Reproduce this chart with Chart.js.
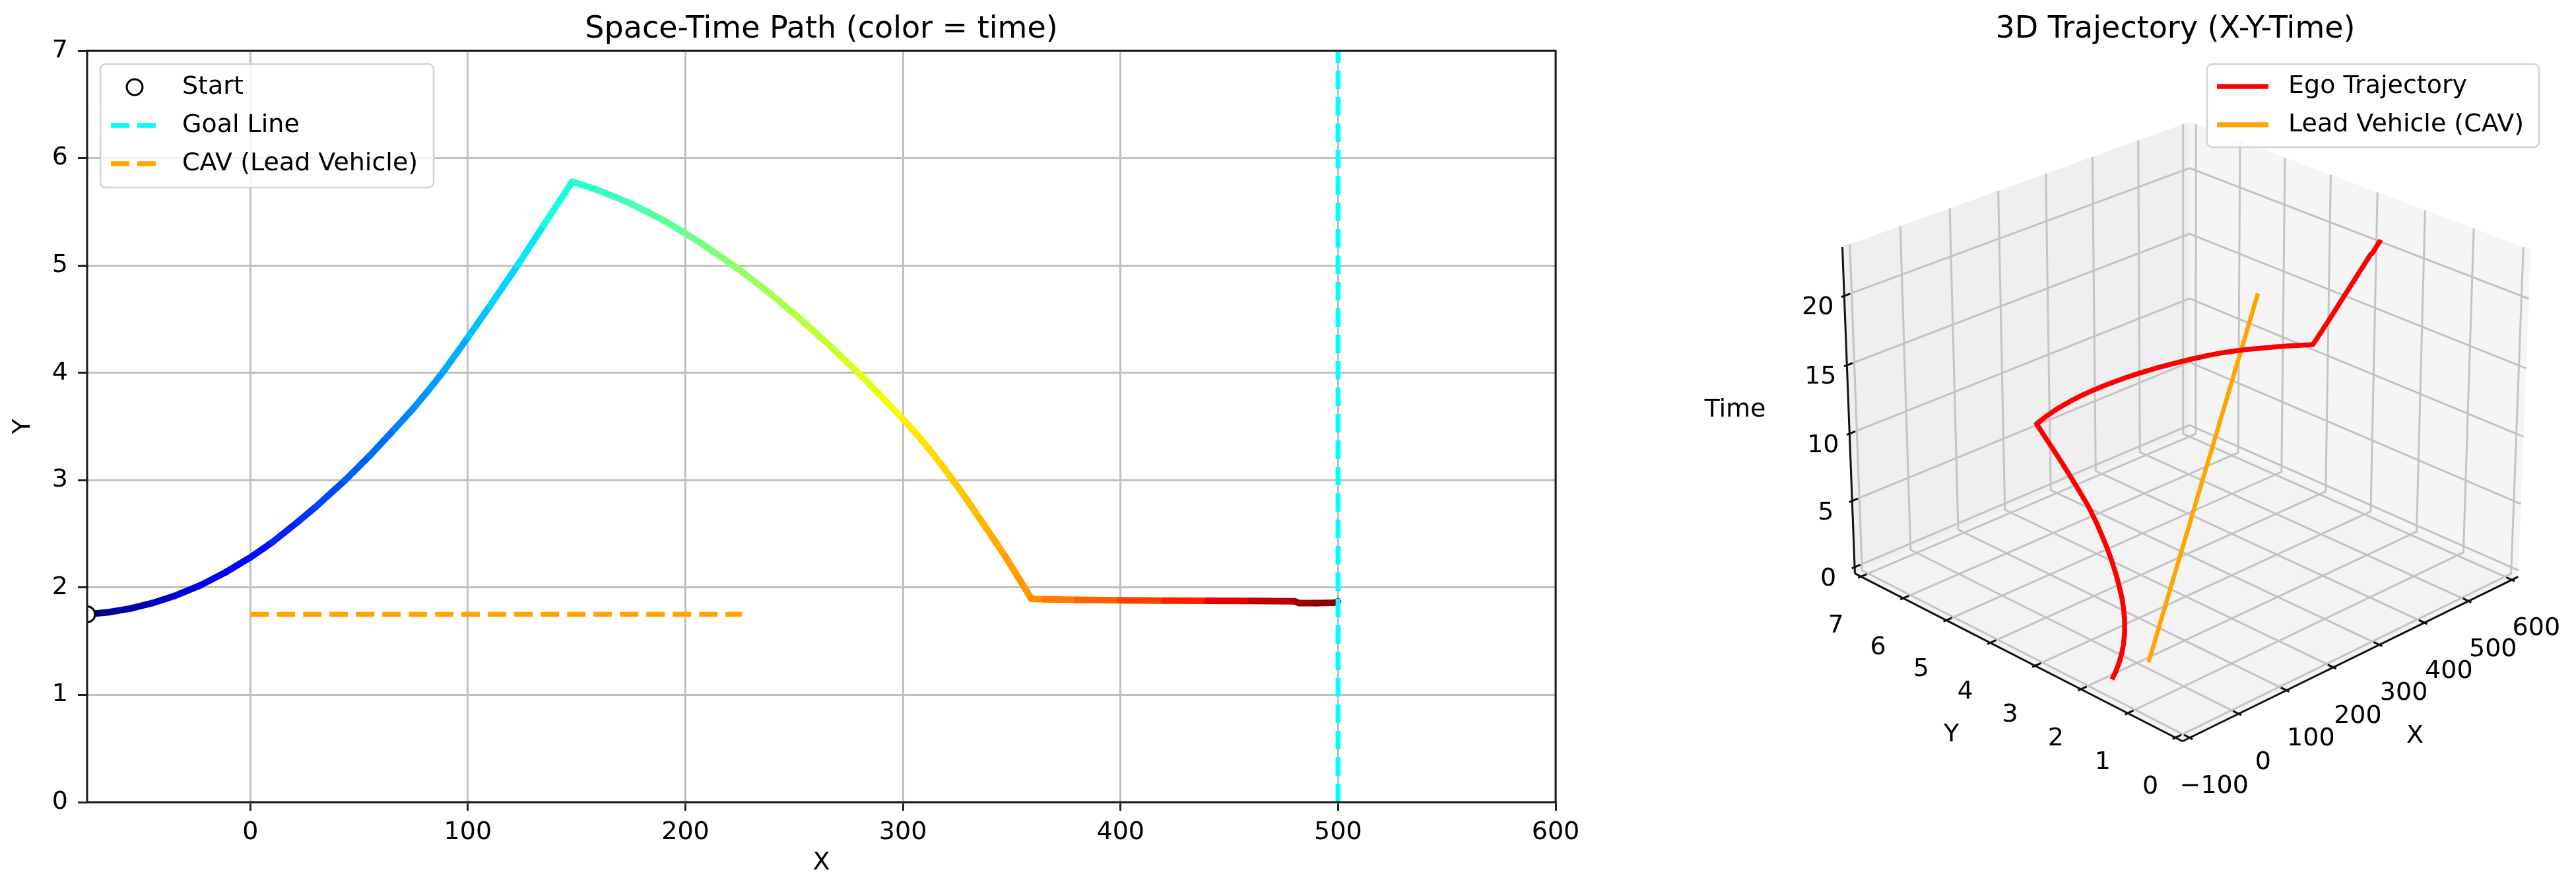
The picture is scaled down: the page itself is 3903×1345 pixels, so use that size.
<!DOCTYPE html>
<html><head><meta charset="utf-8">
<script src="https://cdn.jsdelivr.net/npm/chart.js@4.4.1/dist/chart.umd.min.js"></script>
<style>
html,body{margin:0;padding:0;background:#fff;overflow:hidden;}
#wrap{position:relative;width:3903px;height:1345px;overflow:hidden;background:#fff;}
canvas{position:absolute;top:0;}
#c1{left:0;} #c2{left:2450px;}
</style></head><body>
<div id="wrap"><canvas id="c1" width="2450" height="1345"></canvas><canvas id="c2" width="1453" height="1345"></canvas></div>
<script>
// ---------------- DATA ----------------
const egoX = [-75,-65,-55,-45,-35,-23,-11.5,0,10,21.8,30,43.6,55,66.5,75,82,89.4,100,110,122.8,135,148,155,160,168,175,183,190,200,208,215,222,230,240,250,258,265,272,280,290,300,306,312,318,323,329,335,341,347,353,359,365,380,400,420,440,460,480,482,490,498,500];
const egoY = [1.75,1.77,1.805,1.855,1.92,2.02,2.14,2.28,2.42,2.61,2.75,3.0,3.23,3.48,3.67,3.84,4.03,4.33,4.62,5.0,5.38,5.78,5.735,5.70,5.635,5.575,5.495,5.42,5.30,5.197,5.10,5.002,4.88,4.721,4.55,4.407,4.28,4.143,3.99,3.782,3.57,3.435,3.29,3.136,3.0,2.829,2.65,2.472,2.29,2.093,1.895,1.89,1.885,1.88,1.878,1.876,1.874,1.872,1.855,1.855,1.857,1.87];
const egoTime = [0,0.4,0.8,1.2,1.6,2.08,2.54,3.0,3.4,3.872,4.2,4.744,5.2,5.66,6.0,6.28,6.576,7.0,7.4,7.912,8.4,8.92,9.2,9.4,9.72,10.0,10.32,10.6,11.0,11.32,11.6,11.88,12.2,12.6,13.0,13.32,13.6,13.88,14.2,14.6,15.0,15.24,15.48,15.72,15.92,16.16,16.4,16.64,16.88,17.12,17.36,17.6,18.2,19.0,19.8,20.6,21.4,22.2,22.28,22.6,22.92,23.0];
const cavX = [0, 226];
const cavY = [1.75, 1.75];
const cavTime = [0, 23];
const goalX = [500, 500];
const goalY = [0, 7];
const startX = [-75];
const startY = [1.75];
const xRange2D = [-75, 600];
const yRange2D = [0, 7];
const xTicks2D = [0,100,200,300,400,500,600];
const yTicks2D = [0,1,2,3,4,5,6,7];
const xLim3D = [-100, 600];
const yLim3D = [0, 7];
const zLim3D = [0, 23];
const xTicks3D = [-100,0,100,200,300,400,500,600];
const yTicks3D = [0,1,2,3,4,5,6,7];
const zTicks3D = [0,5,10,15,20];

// ---------------- STYLE ----------------
const FONT = '"DejaVu Sans"';
const GRID2D = '#c0c0c0';
const GRID3D = '#c4c4c4';
const VIEW = {elev:25.5, azim:-134.4, dist:8.76, scale:723.8, cx:3312.5-2450, cy:628.2, zAspect:0.7574};

// jet colormap
const JET_R=[[0,0],[0.35,0],[0.66,1],[0.89,1],[1,0.5]];
const JET_G=[[0,0],[0.125,0],[0.375,1],[0.64,1],[0.91,0],[1,0]];
const JET_B=[[0,0.5],[0.11,1],[0.34,1],[0.65,0],[1,0]];
function interp(tab,v){ if(v<=tab[0][0]) return tab[0][1]; for(let i=1;i<tab.length;i++){ if(v<=tab[i][0]){const a=tab[i-1],b=tab[i];return a[1]+(b[1]-a[1])*(v-a[0])/(b[0]-a[0]);}} return tab[tab.length-1][1]; }
function jet(v){ v=Math.max(0,Math.min(1,v)); return 'rgb('+Math.round(255*interp(JET_R,v))+','+Math.round(255*interp(JET_G,v))+','+Math.round(255*interp(JET_B,v))+')'; }
const tMin = Math.min(...egoTime), tMax = Math.max(...egoTime);

function roundRect(ctx,x,y,w,h,r){ctx.beginPath();ctx.moveTo(x+r,y);ctx.arcTo(x+w,y,x+w,y+h,r);ctx.arcTo(x+w,y+h,x,y+h,r);ctx.arcTo(x,y+h,x,y,r);ctx.arcTo(x,y,x+w,y,r);ctx.closePath();}

// ---------------- CHART 1 : 2D ----------------
const frame2D = {
  id:'frame2D',
  afterDraw(chart){
    const {ctx, chartArea:a} = chart;
    ctx.save();
    ctx.strokeStyle='#1a1a1a'; ctx.lineWidth=3;
    ctx.strokeRect(a.left, a.top, a.right-a.left, a.bottom-a.top);
    ctx.fillStyle='#000'; ctx.textAlign='center'; ctx.textBaseline='alphabetic';
    ctx.font='46px '+FONT;
    ctx.fillText('Space-Time Path (color = time)', (a.left+a.right)/2, 57);
    ctx.font='38px '+FONT; ctx.textBaseline='middle';
    ctx.fillText('X', (a.left+a.right)/2, 1307);
    ctx.save(); ctx.translate(35,(a.top+a.bottom)/2); ctx.rotate(-Math.PI/2); ctx.fillText('Y',0,0); ctx.restore();
    roundRect(ctx,152,97,505,187,8);
    ctx.fillStyle='rgba(255,255,255,0.8)'; ctx.fill();
    ctx.strokeStyle='#d3d3d3'; ctx.lineWidth=2.5; ctx.stroke();
    ctx.beginPath(); ctx.arc(204,132,12,0,Math.PI*2); ctx.fillStyle='#fff'; ctx.fill();
    ctx.strokeStyle='#000'; ctx.lineWidth=3; ctx.stroke();
    ctx.lineWidth=7.5; ctx.setLineDash([28,12]); ctx.lineCap='butt';
    ctx.strokeStyle='#00ffff'; ctx.beginPath(); ctx.moveTo(168,190); ctx.lineTo(239,190); ctx.stroke();
    ctx.strokeStyle='#ffa500'; ctx.beginPath(); ctx.moveTo(168,248); ctx.lineTo(239,248); ctx.stroke();
    ctx.setLineDash([]);
    ctx.fillStyle='#000'; ctx.textAlign='left'; ctx.textBaseline='middle'; ctx.font='38px '+FONT;
    ctx.fillText('Start',276,132);
    ctx.fillText('Goal Line',276,190);
    ctx.fillText('CAV (Lead Vehicle)',276,248);
    ctx.restore();
  }
};

new Chart(document.getElementById('c1'), {
  type:'scatter',
  data:{datasets:[
    {label:'Start', data:startX.map((x,i)=>({x, y:startY[i]})), pointRadius:12, pointBorderWidth:3, pointBorderColor:'#000', pointBackgroundColor:'#fff', showLine:false, clip:0},
    {label:'Goal Line', data:goalX.map((x,i)=>({x, y:goalY[i]})), showLine:true, borderColor:'#00ffff', borderWidth:7.5, borderDash:[28,12], pointRadius:0, borderCapStyle:'butt'},
    {label:'CAV (Lead Vehicle)', data:cavX.map((x,i)=>({x, y:cavY[i]})), showLine:true, borderColor:'#ffa500', borderWidth:7.5, borderDash:[28,12], pointRadius:0, borderCapStyle:'butt'},
    {label:'Ego', data:egoX.map((x,i)=>({x, y:egoY[i], t:egoTime[i]})), showLine:true, borderColor:'#00f', borderWidth:10, pointRadius:0, borderCapStyle:'round', borderJoinStyle:'round', clip:0,
      segment:{borderColor:c=>jet(((c.p0.raw.t+c.p1.raw.t)/2 - tMin)/(tMax-tMin))}}
  ]},
  options:{
    responsive:false, animation:false, events:[],
    layout:{padding:{left:0,top:77,right:93,bottom:0}},
    scales:{
      x:{type:'linear', min:xRange2D[0], max:xRange2D[1],
         afterBuildTicks:s=>{s.ticks=xTicks2D.map(v=>({value:v}));},
         afterFit:s=>{s.height=130;},
         grid:{color:GRID2D, lineWidth:3, tickLength:13, tickColor:'#222', tickWidth:3, drawTicks:true},
         border:{display:false},
         ticks:{font:{family:'DejaVu Sans', size:38}, color:'#000', padding:10, maxRotation:0, autoSkip:false}},
      y:{type:'linear', min:yRange2D[0], max:yRange2D[1],
         afterBuildTicks:s=>{s.ticks=yTicks2D.map(v=>({value:v}));},
         afterFit:s=>{s.width=132;},
         grid:{color:GRID2D, lineWidth:3, tickLength:14, tickColor:'#222', tickWidth:3, drawTicks:true},
         border:{display:false},
         ticks:{font:{family:'DejaVu Sans', size:38}, color:'#000', padding:15, autoSkip:false}}
    },
    plugins:{legend:{display:false}, tooltip:{enabled:false}, title:{display:false}}
  },
  plugins:[frame2D]
});

// ---------------- CHART 2 : 3D ----------------
function boxLim(l){const p=(l[1]-l[0])/48; return [l[0]-p, l[1]+p];}
const BX=boxLim(xLim3D), BY=boxLim(yLim3D), BZ=boxLim(zLim3D);
const DX=(xLim3D[1]-xLim3D[0])/12, DY=(yLim3D[1]-yLim3D[0])/12;
function proj(x,y,z){
  const X=(x-(BX[0]+BX[1])/2)/(BX[1]-BX[0]);
  const Y=(y-(BY[0]+BY[1])/2)/(BY[1]-BY[0]);
  const Z=(z-(BZ[0]+BZ[1])/2)/(BZ[1]-BZ[0])*VIEW.zAspect;
  const a=VIEW.azim*Math.PI/180, e=VIEW.elev*Math.PI/180;
  const sa=Math.sin(a), ca=Math.cos(a), se=Math.sin(e), ce=Math.cos(e);
  const u=-sa*X+ca*Y;
  const v=-se*ca*X-se*sa*Y+ce*Z;
  const w=ce*ca*X+ce*sa*Y+se*Z;
  const f=VIEW.dist/(VIEW.dist-w);
  return {x:VIEW.cx+VIEW.scale*f*u, y:VIEW.cy-VIEW.scale*f*v};
}
function line3d(pts,color,width,label){
  return {label:label||'', data:pts.map(p=>proj(p[0],p[1],p[2])), showLine:true, borderColor:color, borderWidth:width, pointRadius:0, fill:false, clip:false, tension:0, borderCapStyle:'butt', borderJoinStyle:'round'};
}
const ds3 = [];
ds3.push(line3d(egoX.map((x,i)=>[x,egoY[i],egoTime[i]]), '#ff0000', 7.5, 'Ego Trajectory'));
ds3.push(line3d(cavX.map((x,i)=>[x,cavY[i],cavTime[i]]), '#ffa500', 6.5, 'Lead Vehicle (CAV)'));
xTicks3D.forEach(v=>ds3.push(line3d([[v,BY[0]-0.1*DY,BZ[0]],[v,BY[0]+0.2*DY,BZ[0]]],'#111',3)));
yTicks3D.forEach(v=>ds3.push(line3d([[BX[0]-0.1*DX,v,BZ[0]],[BX[0]+0.2*DX,v,BZ[0]]],'#111',3)));
zTicks3D.forEach(v=>ds3.push(line3d([[BX[0]-0.1*DX,BY[1],v],[BX[0]+0.2*DX,BY[1],v]],'#111',3)));
ds3.push(line3d([[BX[0],BY[0],BZ[0]],[BX[1],BY[0],BZ[0]]],'#111',3));
ds3.push(line3d([[BX[0],BY[0],BZ[0]],[BX[0],BY[1],BZ[0]]],'#111',3));
ds3.push(line3d([[BX[0],BY[1],BZ[0]],[BX[0],BY[1],BZ[1]]],'#111',3));
xTicks3D.forEach(v=>ds3.push(line3d([[v,BY[0],BZ[0]],[v,BY[1],BZ[0]],[v,BY[1],BZ[1]]],GRID3D,3)));
yTicks3D.forEach(v=>ds3.push(line3d([[BX[0],v,BZ[0]],[BX[1],v,BZ[0]],[BX[1],v,BZ[1]]],GRID3D,3)));
zTicks3D.forEach(v=>ds3.push(line3d([[BX[0],BY[1],v],[BX[1],BY[1],v],[BX[1],BY[0],v]],GRID3D,3)));

function fmt(v){ return v<0 ? '\u2212'+Math.abs(v) : String(v); }

const panes3D = {
  id:'panes3D',
  beforeDatasetsDraw(chart){
    const {ctx, scales:{x:sx, y:sy}} = chart;
    const poly=(pts,col)=>{ ctx.beginPath(); pts.forEach((p,i)=>{const q=proj(p[0],p[1],p[2]); const px=sx.getPixelForValue(q.x), py=sy.getPixelForValue(q.y); if(i) ctx.lineTo(px,py); else ctx.moveTo(px,py);}); ctx.closePath(); ctx.fillStyle=col; ctx.fill(); };
    ctx.save();
    poly([[BX[0],BY[0],BZ[0]],[BX[1],BY[0],BZ[0]],[BX[1],BY[1],BZ[0]],[BX[0],BY[1],BZ[0]]],'#f3f3f3');
    poly([[BX[0],BY[1],BZ[0]],[BX[1],BY[1],BZ[0]],[BX[1],BY[1],BZ[1]],[BX[0],BY[1],BZ[1]]],'#efefef');
    poly([[BX[1],BY[0],BZ[0]],[BX[1],BY[1],BZ[0]],[BX[1],BY[1],BZ[1]],[BX[1],BY[0],BZ[1]]],'#f5f5f5');
    ctx.restore();
  },
  afterDraw(chart){
    const {ctx, scales:{x:sx, y:sy}} = chart;
    const P=(x,y,z)=>{const q=proj(x,y,z); return [sx.getPixelForValue(q.x), sy.getPixelForValue(q.y)];};
    ctx.save();
    ctx.fillStyle='#000'; ctx.textAlign='center'; ctx.textBaseline='middle'; ctx.font='38px '+FONT;
    xTicks3D.forEach(v=>{const [px,py]=P(v,BY[0],BZ[0]); ctx.fillText(fmt(v),px+37,py+74);});
    yTicks3D.forEach(v=>{const [px,py]=P(BX[0],v,BZ[0]); ctx.fillText(fmt(v),px-38,py+75);});
    zTicks3D.forEach(v=>{const [px,py]=P(BX[0],BY[1],v); ctx.fillText(fmt(v),px-40,py+18);});
    let a=P(BX[0],BY[0],BZ[0]), b=P(BX[1],BY[0],BZ[0]);
    ctx.fillText('X',(a[0]+b[0])/2+98,(a[1]+b[1])/2+117);
    b=P(BX[0],BY[1],BZ[0]);
    ctx.fillText('Y',(a[0]+b[0])/2-102,(a[1]+b[1])/2+117);
    a=P(BX[0],BY[1],BZ[0]); b=P(BX[0],BY[1],BZ[1]);
    ctx.fillText('Time',(a[0]+b[0])/2-172,(a[1]+b[1])/2);
    ctx.textBaseline='alphabetic'; ctx.font='46px '+FONT;
    ctx.fillText('3D Trajectory (X-Y-Time)', 846, 57);
    roundRect(ctx,894,97,503,126,8);
    ctx.fillStyle='rgba(255,255,255,0.8)'; ctx.fill();
    ctx.strokeStyle='#d3d3d3'; ctx.lineWidth=2.5; ctx.stroke();
    ctx.lineWidth=7.5; ctx.lineCap='butt';
    ctx.strokeStyle='#ff0000'; ctx.beginPath(); ctx.moveTo(909,131); ctx.lineTo(987,131); ctx.stroke();
    ctx.strokeStyle='#ffa500'; ctx.beginPath(); ctx.moveTo(909,189); ctx.lineTo(987,189); ctx.stroke();
    ctx.fillStyle='#000'; ctx.textAlign='left'; ctx.textBaseline='middle'; ctx.font='38px '+FONT;
    ctx.fillText('Ego Trajectory',1017,131);
    ctx.fillText('Lead Vehicle (CAV)',1017,189);
    ctx.restore();
  }
};

new Chart(document.getElementById('c2'), {
  type:'scatter',
  data:{datasets:ds3},
  options:{
    responsive:false, animation:false, events:[],
    layout:{padding:0},
    scales:{
      x:{type:'linear', min:0, max:1453, display:false},
      y:{type:'linear', min:0, max:1345, reverse:true, display:false}
    },
    plugins:{legend:{display:false}, tooltip:{enabled:false}, title:{display:false}}
  },
  plugins:[panes3D]
});
</script>
</body></html>
